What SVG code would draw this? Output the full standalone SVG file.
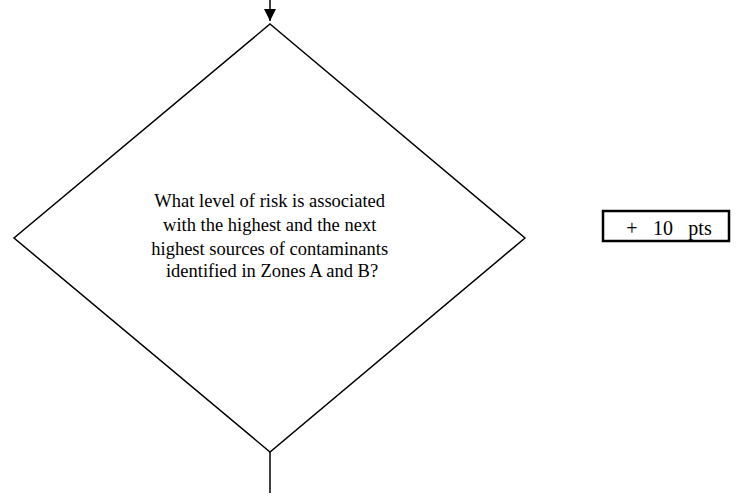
<svg xmlns="http://www.w3.org/2000/svg" width="740" height="498" viewBox="0 0 740 498">
<style>
.ln{stroke:#000;stroke-width:1.5;fill:none}
.t{font-family:"Liberation Serif","Times New Roman",serif;fill:#000}
</style>
<defs>
<marker id="ah" markerWidth="12" markerHeight="12" refX="12" refY="6" orient="auto" markerUnits="userSpaceOnUse">
<path d="M0,0 L12,6 L0,12 Z" fill="#000"/>
</marker>
</defs>
<rect width="740" height="498" fill="#fff"/>
<g id="connectors">
<line class="ln" x1="270" y1="0" x2="270" y2="21" marker-end="url(#ah)"/>
<line class="ln" x1="270" y1="452" x2="270" y2="493"/>
</g>
<g id="decision">
<polygon class="ln" points="270,24 525,238 270,452 14,238"/>
<text class="t" font-size="18.5" text-anchor="middle">
<tspan x="272" y="207">What level of risk is associated</tspan>
<tspan x="272" y="230.5">with the highest and the next</tspan>
<tspan x="272" y="254.5">highest sources of contaminants</tspan>
<tspan x="272" y="277">identified in Zones A and B?</tspan>
</text>
</g>
<g id="points">
<rect x="603" y="211" width="126" height="30" fill="#fff" stroke="#000" stroke-width="2.5"/>
<text class="t" font-size="20" y="235" text-anchor="middle"><tspan x="632">+</tspan><tspan x="663">10</tspan><tspan x="700">pts</tspan></text>
</g>
</svg>
